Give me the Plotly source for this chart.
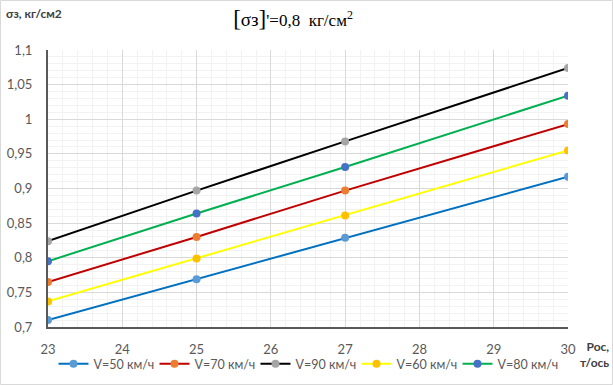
import plotly.graph_objects as go

x_vals = [23, 25, 27, 30]
v50 = [0.710, 0.769, 0.829, 0.917]
v70 = [0.765, 0.830, 0.897, 0.993]
v90 = [0.824, 0.897, 0.968, 1.074]
v60 = [0.737, 0.799, 0.861, 0.955]
v80 = [0.795, 0.864, 0.931, 1.034]

series_names = ["V=50 км/ч", "V=70 км/ч", "V=90 км/ч", "V=60 км/ч", "V=80 км/ч"]
line_colors = ["#0070C0", "#C00000", "#000000", "#FFFF00", "#00B050"]
marker_colors = ["#5B9BD5", "#ED7D31", "#A5A5A5", "#FFC000", "#4472C4"]

y_tickvals = [0.7, 0.75, 0.8, 0.85, 0.9, 0.95, 1.0, 1.05, 1.1]
y_ticktext = ["0,7", "0,75", "0,8", "0,85", "0,9", "0,95", "1", "1,05", "1,1"]
x_tickvals = [23, 24, 25, 26, 27, 28, 29, 30]

fig = go.Figure()
for name, ys, lc, mc in zip(series_names, [v50, v70, v90, v60, v80], line_colors, marker_colors):
    fig.add_trace(go.Scatter(
        x=x_vals, y=ys, name=name, mode="lines+markers",
        line=dict(color=lc, width=2),
        marker=dict(color=mc, size=8),
    ))

W, H = 613, 385
L, R, T, B = 48, 568, 50, 327
pw, ph = R - L, B - T

def px(xp):
    return (xp - L) / pw

def py(yp):
    return (B - yp) / ph

fig.update_layout(
    width=W, height=H,
    margin=dict(l=L, r=W - R, t=T, b=H - B, autoexpand=False),
    paper_bgcolor="white", plot_bgcolor="white",
    font=dict(family="Lato, Carlito, Calibri, Liberation Sans, Arial", size=13, color="#595959"),
    title=dict(
        text="<span style='font-size:23px'>[</span><span style='font-size:19px'>σз</span><span style='font-size:23px'>]</span>'=0,8  кг/см<sup>2</sup>",
        font=dict(family="Liberation Serif, Times New Roman", size=17, color="#000000"),
        x=293 / W, xanchor="center", y=1 - 20 / H, yanchor="middle",
    ),
    showlegend=True,
    legend=dict(
        orientation="h", x=px(306), xanchor="center", y=py(364), yanchor="middle",
        font=dict(size=12.5, color="#595959"), itemwidth=30, tracegroupgap=0,
        entrywidth=56, entrywidthmode="pixels",
        bgcolor="rgba(0,0,0,0)",
    ),
    xaxis=dict(
        range=[23, 30], tickvals=x_tickvals, showgrid=True, gridcolor="#D9D9D9", gridwidth=1,
        minor=dict(dtick=0.2, showgrid=True, gridcolor="#F2F2F2", gridwidth=1),
        showline=True, linecolor="#595959", linewidth=2, zeroline=False, automargin=False,
        ticks="", tickfont=dict(size=13, color="#595959"), ticklabelstandoff=9,
    ),
    yaxis=dict(
        range=[0.7, 1.1], tickvals=y_tickvals, ticktext=y_ticktext,
        showgrid=True, gridcolor="#D9D9D9", gridwidth=1,
        minor=dict(dtick=0.01, showgrid=True, gridcolor="#F2F2F2", gridwidth=1),
        showline=True, linecolor="#595959", linewidth=2, zeroline=False, automargin=False,
        ticks="", tickfont=dict(size=13, color="#595959"), ticklabelstandoff=11,
    ),
    annotations=[
        dict(text="<b>σз, кг/см2</b>", x=px(4), y=py(13), xref="paper", yref="paper",
             xanchor="left", yanchor="middle", showarrow=False,
             font=dict(size=12, color="#404040")),
        dict(text="<b>Рос,<br>т/ось</b>", x=px(611), y=py(354), xref="paper", yref="paper",
             xanchor="right", yanchor="middle", showarrow=False, align="right",
             font=dict(size=12, color="#404040")),
    ],
    shapes=[
        dict(type="rect", xref="paper", yref="paper",
             x0=px(0.5), x1=px(612.5), y0=py(384.5), y1=py(0.5),
             line=dict(color="#D9D9D9", width=1), layer="below"),
    ],
)

fig.write_html(
    "out.html",
    config={"displayModeBar": False},
    post_script="document.body.style.margin='0';document.body.style.padding='0';document.body.style.overflow='hidden';",
)
